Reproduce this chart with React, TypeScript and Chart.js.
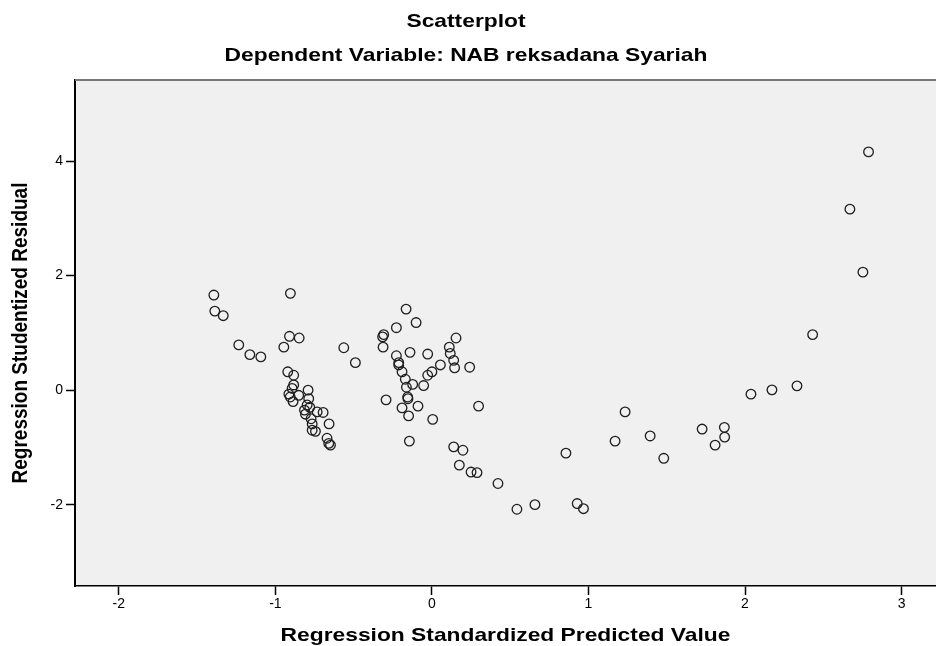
import React, { useEffect, useRef } from 'react';
import { Chart, registerables } from 'chart.js';

Chart.register(...registerables);

// Regression Standardized Predicted Value (x) / Regression Studentized Residual (y)
const predicted = [
  -1.393, -1.387, -1.333, -0.904, -1.234, -1.163, -1.093, -0.910, -0.848, -0.946, -0.563, -0.489,
  -0.921, -0.883, -0.883, -0.893, -0.791, -0.914, -0.851, -0.887, -0.787, -0.797, -0.814, -0.808,
  -0.733, -0.695, -0.772, -0.765, -0.657, -0.765, -0.744, -0.670, -0.659, -0.648, -0.905, -0.780,
  -0.165, -0.101, -0.227, -0.308, -0.315, -0.312, 0.154, 0.111, 0.117, 0.139, 0.145, 0.241,
  -0.227, -0.212, -0.212, -0.140, -0.027, 0.054, 0.000, -0.027, -0.191, -0.170, -0.123, -0.053,
  -0.163, -0.155, -0.153, -0.293, -0.191, -0.089, -0.149, 0.005, 0.298, -0.144, 0.139, 0.198,
  0.175, 0.250, 0.288, 0.422, 0.543, 0.658, 0.856, 0.928, 0.968, 1.170, 1.234, 1.394,
  1.481, 1.726, 1.868, 1.870, 1.809, 2.038, 2.172, 2.332, 2.432, 2.670, 2.753, 2.789,
];
const residual = [
  1.66, 1.38, 1.30, 1.69, 0.79, 0.62, 0.58, 0.94, 0.91, 0.75, 0.74, 0.48,
  0.32, 0.26, 0.09, 0.03, 0.00, -0.07, -0.09, -0.20, -0.15, -0.26, -0.35, -0.42,
  -0.38, -0.39, -0.50, -0.59, -0.59, -0.70, -0.72, -0.84, -0.93, -0.96, -0.12, -0.30,
  1.415, 1.18, 1.09, 0.97, 0.93, 0.75, 0.91, 0.75, 0.64, 0.52, 0.39, 0.40,
  0.60, 0.48, 0.44, 0.66, 0.63, 0.44, 0.32, 0.26, 0.32, 0.19, 0.10, 0.08,
  0.05, -0.12, -0.15, -0.17, -0.31, -0.28, -0.45, -0.51, -0.28, -0.89, -0.99, -1.05,
  -1.31, -1.43, -1.44, -1.63, -2.08, -2.00, -1.10, -1.98, -2.07, -0.89, -0.38, -0.80,
  -1.19, -0.68, -0.65, -0.82, -0.96, -0.07, 0.005, 0.075, 0.97, 3.16, 2.06, 4.16,
];
const xTicks = [-2, -1, 0, 1, 2, 3];
const yTicks = [-2, 0, 2, 4];

const titleText = 'Scatterplot';
const subtitleText = 'Dependent Variable: NAB reksadana Syariah';
const xTitleText = 'Regression Standardized Predicted Value';
const yTitleText = 'Regression Studentized Residual';

const FAMILY = '"Liberation Sans", Arial, Helvetica, sans-serif';

const framePlugin = {
  id: 'frame',
  beforeDraw(chart: any) {
    const { ctx, chartArea } = chart;
    ctx.save();
    ctx.fillStyle = '#ffffff';
    ctx.fillRect(0, 0, chart.width, chart.height);
    ctx.fillStyle = '#f0f0f0';
    ctx.fillRect(chartArea.left, chartArea.top, chartArea.right - chartArea.left, chartArea.bottom - chartArea.top);
    ctx.restore();
  },
  afterDraw(chart: any) {
    const { ctx, chartArea } = chart;
    ctx.save();
    ctx.strokeStyle = '#777777';
    ctx.lineWidth = 2;
    ctx.beginPath();
    ctx.moveTo(chartArea.left, chartArea.top);
    ctx.lineTo(chartArea.right, chartArea.top);
    ctx.stroke();

    const drawH = (text: string, cx: number, baseline: number, size: number, sx: number) => {
      ctx.save();
      ctx.font = `bold ${size}px ${FAMILY}`;
      ctx.fillStyle = '#000';
      ctx.textAlign = 'center';
      ctx.textBaseline = 'alphabetic';
      ctx.translate(cx, baseline);
      ctx.scale(sx, 1);
      ctx.fillText(text, 0, 0);
      ctx.restore();
    };
    drawH(titleText, 466, 27, 19, 1.2);
    drawH(subtitleText, 466, 61, 19, 1.2);
    drawH(xTitleText, (chartArea.left + chartArea.right) / 2, 641, 19, 1.2);

    ctx.save();
    ctx.font = `bold 19px ${FAMILY}`;
    ctx.fillStyle = '#000';
    ctx.textAlign = 'center';
    ctx.textBaseline = 'alphabetic';
    ctx.translate(27, (chartArea.top + chartArea.bottom) / 2);
    ctx.scale(1.15, 1);
    ctx.rotate(-Math.PI / 2);
    ctx.fillText(yTitleText, 0, 0);
    ctx.restore();

    ctx.restore();
  },
};

export default function App() {
  const canvasRef = useRef<HTMLCanvasElement | null>(null);

  useEffect(() => {
    if (!canvasRef.current) return;
    const points = predicted.map((x, i) => ({ x, y: residual[i] }));
    const chart = new Chart(canvasRef.current, {
      type: 'scatter',
      data: {
        datasets: [
          {
            data: points,
            pointStyle: 'circle',
            pointRadius: 4.8,
            pointHoverRadius: 4.8,
            borderWidth: 1.3,
            borderColor: '#1e1e1e',
            backgroundColor: 'rgba(0,0,0,0)',
          },
        ],
      },
      options: {
        responsive: false,
        animation: false,
        devicePixelRatio: 1,
        layout: { autoPadding: false, padding: { left: 0, top: 80, right: 0, bottom: 0 } },
        plugins: {
          legend: { display: false },
          tooltip: { enabled: false },
          title: { display: false },
        },
        scales: {
          x: {
            type: 'linear',
            min: -2.28,
            max: 3.22,
            afterBuildTicks: (s: any) => {
              s.ticks = xTicks.map((v) => ({ value: v }));
            },
            afterFit: (s: any) => {
              s.height = 60;
              s.paddingLeft = 0;
              s.paddingRight = 0;
            },
            grid: {
              display: true,
              drawOnChartArea: false,
              drawTicks: true,
              tickLength: 9,
              tickColor: '#000',
              tickWidth: 1.5,
            },
            border: { display: true, color: '#000', width: 1.5 },
            ticks: {
              color: '#000',
              font: { size: 14, family: FAMILY },
              padding: 1,
              maxRotation: 0,
              autoSkip: false,
            },
          },
          y: {
            type: 'linear',
            min: -3.42,
            max: 5.415,
            afterBuildTicks: (s: any) => {
              s.ticks = yTicks.map((v) => ({ value: v }));
            },
            afterFit: (s: any) => {
              s.width = 75;
              s.paddingTop = 0;
              s.paddingBottom = 0;
            },
            grid: {
              display: true,
              drawOnChartArea: false,
              drawTicks: true,
              tickLength: 9,
              tickColor: '#000',
              tickWidth: 1.5,
            },
            border: { display: true, color: '#000', width: 2 },
            ticks: {
              color: '#000',
              font: { size: 14, family: FAMILY },
              padding: 3,
              autoSkip: false,
            },
          },
        },
      },
      plugins: [framePlugin],
    });
    return () => chart.destroy();
  }, []);

  return (
    <div style={{ position: 'absolute', left: 0, top: 0, width: 936, height: 646 }}>
      <canvas ref={canvasRef} width={936} height={646} />
    </div>
  );
}
